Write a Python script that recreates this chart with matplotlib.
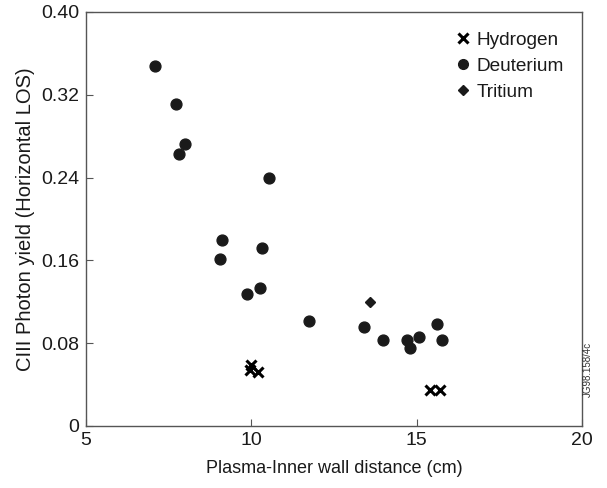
import matplotlib
matplotlib.use("Agg")
import matplotlib.pyplot as plt
from matplotlib.lines import Line2D

plt.rcParams['font.family'] = ['Liberation Sans', 'DejaVu Sans']

# Hydrogen discharges
h_dist = [9.99, 9.96, 10.21, 15.40, 15.70]
h_yield = [0.059, 0.054, 0.052, 0.035, 0.035]

# Deuterium discharges
d_dist = [7.10, 7.72, 8.00, 7.82, 10.54, 9.10, 9.05, 10.32, 9.87, 10.27,
          11.73, 13.41, 13.98, 14.70, 14.80, 15.07, 15.61, 15.77]
d_yield = [0.348, 0.311, 0.272, 0.263, 0.240, 0.180, 0.161, 0.172, 0.128, 0.133,
           0.101, 0.096, 0.083, 0.083, 0.075, 0.086, 0.099, 0.083]

# Tritium discharge
t_dist = [13.58]
t_yield = [0.120]

x_ticks = [5, 10, 15, 20]
y_ticks = [0, 0.08, 0.16, 0.24, 0.32, 0.40]
y_tick_labels = ["0", "0.08", "0.16", "0.24", "0.32", "0.40"]

fig = plt.figure(figsize=(6.07, 4.88), dpi=100)
ax = fig.add_axes([86 / 607, 1 - 426 / 488, 496 / 607, 414 / 488])

ax.plot(h_dist, h_yield, linestyle='none', marker='x', color='black',
        markersize=7.5, markeredgewidth=2.2)
ax.plot(d_dist, d_yield, linestyle='none', marker='o', color='#1a1a1a',
        markersize=7.8)
ax.plot(t_dist, t_yield, linestyle='none', marker='D', color='#1a1a1a',
        markersize=5.5)

ax.set_xlim(5, 20)
ax.set_ylim(0, 0.40)
ax.set_xticks(x_ticks)
ax.set_yticks(y_ticks)
ax.set_yticklabels(y_tick_labels)
ax.tick_params(direction='in', length=5, width=0.8, colors='#555555',
               labelcolor='#1a1a1a', labelsize=14)
ax.tick_params(axis='x', pad=4)
ax.tick_params(axis='y', pad=5)
for s in ax.spines.values():
    s.set_color('#555555')
    s.set_linewidth(1.0)

ax.set_xlabel("Plasma-Inner wall distance (cm)", fontsize=13, labelpad=8,
              color='#1a1a1a')
ax.set_ylabel("CIII Photon yield (Horizontal LOS)", fontsize=14.5, labelpad=4,
              color='#1a1a1a')

handles = [
    Line2D([], [], linestyle='none', marker='x', color='black', markersize=6.5,
           markeredgewidth=2.2),
    Line2D([], [], linestyle='none', marker='o', color='#1a1a1a', markersize=7),
    Line2D([], [], linestyle='none', marker='D', color='#1a1a1a', markersize=5),
]
ax.legend(handles, ["Hydrogen", "Deuterium", "Tritium"], loc='upper right',
          bbox_to_anchor=(0.99, 0.985), frameon=False, fontsize=13.7,
          handlelength=0.8, handletextpad=0.3, labelspacing=0.45,
          borderaxespad=0.3, labelcolor='#1a1a1a')

fig.text(588 / 607, 1 - 369 / 488, "JG98.158/4c", rotation=90, fontsize=7,
         ha='center', va='center', color='#333333')

fig.savefig("out.png", dpi=100)
